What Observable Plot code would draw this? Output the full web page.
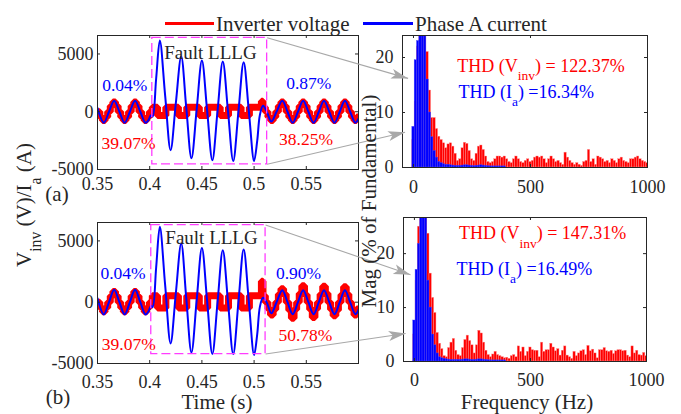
<!DOCTYPE html>
<html><head><meta charset="utf-8">
<script src="https://cdn.jsdelivr.net/npm/d3@7"></script>
<script src="https://cdn.jsdelivr.net/npm/@observablehq/plot@0.6"></script>
<style>
body{margin:0;background:#fff;}
#wrap{position:relative;width:681px;height:414px;font-family:"Liberation Serif","Times New Roman",serif;color:#262626;overflow:hidden;background:#fff}
#wrap svg{position:absolute;left:0;top:0;overflow:visible}
.leg{position:absolute;top:12px;font-size:21px;line-height:24px;white-space:nowrap;color:#262626}
.legline{position:absolute;top:22px;height:3px}
</style></head><body><div id="wrap"></div>
<script>
// ---------------- data ----------------
const timeTicks = [0.35, 0.4, 0.45, 0.5, 0.55];
const ampTicks = [-5000, 0, 5000];
const freqTicks = [0, 500, 1000];
const magTicks = [0, 10, 20];

// Phase A current samples (s, A) read at extrema / mid points
const curT = [0.35,0.351,0.356,0.361,0.366,0.371,0.376,0.381,0.386,0.391,
  0.396,0.399,0.4012,0.4028,0.4062,0.4097,0.4148,0.42,0.425,0.4302,
  0.435,0.44,0.445,0.45,0.455,0.46,0.465,0.47,0.475,0.48,
  0.485,0.49,0.495,0.5,0.503,0.5055,0.5085,0.512,0.5165,0.5215,
  0.527,0.532,0.537,0.542,0.547,0.552,0.557,0.562,0.567,0.572,
  0.577,0.582,0.587,0.592,0.597,0.6];
const curA = [320,0,-950,0,950,0,-950,0,950,0,
  -950,-700,-300,-420,2900,6174,1400,-3330,720,4783,
  380,-4026,200,4435,120,-4200,75,4348,45,-4260,
  15,4290,15,-4260,-2500,-300,520,50,-850,0,
  950,0,-950,0,950,0,-950,0,950,0,
  -950,0,950,0,-950,-600];
const curB = [330,0,-1000,0,1010,0,-1000,0,1010,0,
  -1000,-720,-300,-420,2850,6148,1390,-3361,710,4787,
  345,-4098,165,4426,100,-4230,5,4238,30,-4230,
  30,4295,0,-4311,-2600,-400,360,0,-900,0,
  980,0,-980,0,980,0,-980,0,980,0,
  -980,0,980,0,-980,-620];

// Inverter voltage steps (step start time, V)
const volT = [0.35,0.35225,0.35475,0.35725,0.35975,0.36225,0.36475,0.36725,0.36975,0.37225,
  0.37475,0.37725,0.37975,0.38225,0.38475,0.38725,0.38975,0.39225,0.39475,0.39725,
  0.39975,0.4025,0.4075,0.4155,0.4275,0.4355,0.4475,0.4555,0.4675,0.4755,
  0.4875,0.4955,0.507,0.5085,0.51075,0.51325,0.51575,0.51825,0.52075,0.52325,
  0.52575,0.52825,0.53075,0.53325,0.53575,0.53825,0.54075,0.54325,0.54575,0.54825,
  0.55075,0.55325,0.55575,0.55825,0.56075,0.56325,0.56575,0.56825,0.57075,0.57325,
  0.57575,0.57825,0.58075,0.58325,0.58575,0.58825,0.59075,0.59325,0.59575,0.59825,0.6];
const volA = [0,-450,-750,-450,0,500,850,500,0,-450,
  -750,-450,0,500,850,500,0,-450,-750,-450,
  0,380,-330,380,-330,380,-330,380,-330,380,
  -330,380,900,380,0,-450,-750,-450,0,500,
  850,500,0,-450,-750,-450,0,500,850,500,
  0,-450,-750,-450,0,500,850,500,0,-450,
  -750,-450,0,500,850,500,0,-450,-750,-450,-450];
const volB = [0,-450,-780,-450,0,500,870,500,0,-450,
  -780,-450,0,500,870,500,0,-450,-780,-450,
  0,520,-480,520,-480,520,-480,520,-480,520,
  -480,520,1700,520,0,-550,-1050,-600,0,650,
  1100,650,0,-650,-1300,-600,0,700,1350,600,
  0,-600,-1250,-550,0,650,1300,700,0,-600,
  -1100,-650,0,600,1250,650,0,-550,-1050,-550,-550];

// Spectra, % of fundamental, bins every 10 Hz from 0 Hz
const binHz = d3.range(0, 1001, 10);
const redA = [5,12,22,30,30,30,21,14,9,9,
  7,5.6,5,4.4,3.5,4.2,4.4,3.8,2.5,1.2,
  1.5,3.5,4.5,4.3,3,1.5,1.2,2.5,3.8,4,
  3.2,2,1,0.8,1,1.5,2,2,1.8,2,
  1.5,1,0.8,1.5,2,1.5,1,0.8,1.2,1.5,
  1,1.2,1.8,2,1.8,2,1.5,0.8,1.5,2,
  1.5,1,1.2,0.8,0.5,2.7,1.8,1.2,0.8,0.5,
  0.8,0.5,0.3,1,1.2,3.2,1,1.5,0.5,2,
  1.8,1.5,1,1.2,0.8,1.5,1.2,0.8,1.5,1.8,
  1.2,1,0.8,1.5,1.5,1.8,2,1.5,1.2,1,0.8];
const blueA = [7.4,19.5,23,30,30,30,16,10,5.5,3,
  1.8,1,0.8,0.6,0.5,0.5,0.4,0.35,0.3,0.3,
  0.3,0.35,0.4,0.4,0.35,0.3,0.25,0.3,0.35,0.4,
  0.35,0.3,0.25,0.2,0.2,0.2,0.2,0.2,0.2,0.2];
const redB = [5,15,25,30,30,30,23.7,16.3,11.8,9,
  5.3,3.3,2.3,1,0.8,2.5,3.5,4.2,2,1.2,
  1,2.5,4,4.8,3.8,3,1.5,3,5.7,5.2,
  3.5,2,1.2,0.8,1.3,1.8,1.2,1,0.8,0.6,
  0.7,0.5,1,1.2,0.8,2.8,1.8,2.6,1,1.8,
  2.6,2.1,2,2,0.8,3.5,1.8,2.1,2.1,3.3,
  2.6,1.9,2.3,1.1,2,2.8,1.1,0.8,0.5,1.8,
  1,1.5,1.9,2.1,1.2,2.9,1.9,2.2,1.5,0.6,
  2.1,2.1,2.5,1.9,1.8,2,1.4,1.9,2.1,2.1,
  1.9,2,1.1,0.8,2.8,1.5,2,1.2,1.1,1.6,1];
const blueB = [7.6,17,21.8,30,30,30,15,10,5,3,
  1.5,0.8,0.6,0.5,0.4,0.35,0.3,0.3,0.3,0.3,
  0.3,0.35,0.4,0.4,0.35,0.3,0.3,0.35,0.4,0.4,
  0.35,0.3,0.25,0.2,0.2,0.2,0.2,0.2,0.2,0.2];

// texts
const curPctA = ["0.04%", "0.87%"], volPctA = ["39.07%", "38.25%"];
const curPctB = ["0.04%", "0.90%"], volPctB = ["39.07%", "50.78%"];
const faultText = "Fault LLLG";
const thdA = ["122.37%", "16.34%"], thdB = ["147.31%", "16.49%"];

// ---------------- layout / style ----------------
const W = 681, H = 414;
const FONT = '"Liberation Serif", "Times New Roman", serif';
const RED = "#ff0000", BLUE = "#0000ff", MAG = "#ff3cff", GRAY = "#a8a8a8", INK = "#262626";
const baseStyle = {fontFamily: FONT, fontSize: "18px", color: INK, background: "transparent", overflow: "visible"};

const frames = {
  AL: {l: 97, r: 358, t: 35, b: 169},
  BL: {l: 97, r: 358, t: 222, b: 363},
  AR: {l: 402, r: 647, t: 35, b: 167},
  BR: {l: 403, r: 646, t: 217, b: 361}
};
const boxA = {t1: 0.4025, t2: 0.5125, lo: -4550, hi: 6400};
const boxB = {t1: 0.4015, t2: 0.511, lo: -4230, hi: 6290};
const placeA = {cur: [[0.3761, 2270], [0.5524, 2415]], vol: [[0.3797, -2780], [0.5497, -2430]], fault: [0.4582, 5064]};
const placeB = {cur: [[0.3744, 2316], [0.5425, 2365]], vol: [[0.38, -3450], [0.5492, -2716]], fault: [0.4592, 5253]};

function frameTicks(f, xt, yt) {
  const fw = f.r - f.l, fh = f.b - f.t;
  return [
    Plot.tickX(xt, {x: d => d, insetTop: fh - 3, stroke: INK}),
    Plot.tickX(xt, {x: d => d, insetBottom: fh - 3, stroke: INK}),
    Plot.tickY(yt, {y: d => d, insetRight: fw - 3, stroke: INK}),
    Plot.tickY(yt, {y: d => d, insetLeft: fw - 3, stroke: INK}),
    Plot.frame({stroke: INK})
  ];
}

function timePanel(f, yDomain, cur, vol, box, curPct, volPct, place, padX) {
  const curData = curT.map((t, i) => ({t, v: cur[i]}));
  const volData = volT.map((t, i) => ({t, v: vol[i]}));
  const cl = place.cur.map((p, i) => ({x: p[0], y: p[1], s: curPct[i]}));
  const vl = place.vol.map((p, i) => ({x: p[0], y: p[1], s: volPct[i]}));
  return Plot.plot({
    width: W, height: H, marginLeft: f.l, marginRight: W - f.r, marginTop: f.t, marginBottom: H - f.b,
    style: baseStyle,
    x: {domain: [0.35, 0.6]},
    y: {domain: yDomain},
    marks: [
      Plot.line(volData, {x: "t", y: "v", curve: "step-after", stroke: RED, strokeWidth: 7, strokeLinejoin: "miter", clip: true}),
      Plot.line(curData, {x: "t", y: "v", curve: "catmull-rom", stroke: BLUE, strokeWidth: 2, clip: true}),
      Plot.rect([box], {x1: "t1", x2: "t2", y1: "lo", y2: "hi", fill: "none", stroke: MAG, strokeWidth: 1.3, strokeDasharray: "9,4"}),
      Plot.text(cl, {x: "x", y: "y", text: "s", fill: BLUE, fontSize: 17.5}),
      Plot.text(vl, {x: "x", y: "y", text: "s", fill: RED, fontSize: 17.5}),
      Plot.text([faultText], {x: place.fault[0], y: place.fault[1], text: d => d, fill: INK, fontSize: 19}),
      Plot.axisX(timeTicks, {tickSize: 0, tickPadding: padX, tickFormat: d3.format("~g"), label: null}),
      Plot.axisY(ampTicks, {tickSize: 0, tickPadding: 4, tickFormat: d => String(d), label: null}),
      ...frameTicks(f, timeTicks, ampTicks)
    ]
  });
}

function specPanel(f, yMax, red, blue, padX) {
  const rd = red.map((v, i) => ({f: binHz[i], v}));
  const bd = blue.map((v, i) => ({f: binHz[i], v}));
  return Plot.plot({
    width: W, height: H, marginLeft: f.l, marginRight: W - f.r, marginTop: f.t, marginBottom: H - f.b,
    style: baseStyle,
    x: {domain: [-47, 1000]},
    y: {domain: [0, yMax]},
    marks: [
      Plot.rect(rd, {x1: d => d.f - 5, x2: d => d.f + 5, y1: 0, y2: "v", fill: RED, stroke: "#ff9090", strokeWidth: 0.4, clip: true}),
      Plot.rect(bd, {x1: d => d.f - 5, x2: d => d.f + 5, y1: 0, y2: "v", fill: BLUE, stroke: "#4a4aff", strokeWidth: 0.4, clip: true}),
      Plot.axisX(freqTicks, {tickSize: 0, tickPadding: padX, tickFormat: d => String(d), label: null}),
      Plot.axisY(magTicks, {tickSize: 0, tickPadding: 9, tickFormat: d => String(d), label: null}),
      ...frameTicks(f, freqTicks, magTicks)
    ]
  });
}

const wrap = document.getElementById("wrap");
const pAL = timePanel(frames.AL, [-5000, 6600], curA, volA, boxA, curPctA, volPctA, placeA, 8);
const pBL = timePanel(frames.BL, [-5000, 6500], curB, volB, boxB, curPctB, volPctB, placeB, 12);
const pAR = specPanel(frames.AR, 24, redA, blueA, 13);
const pBR = specPanel(frames.BR, 26.7, redB, blueB, 12);
[pAL, pBL, pAR, pBR].forEach(p => wrap.appendChild(p));

// zoom connectors from fault window to spectra
const tipsA = [{f: -23, v: 16.2}, {f: -36, v: 6.4}];
const tipsB = [{f: -17, v: 16.1}, {f: -38, v: 5.2}];
function connectors(pL, box, pR, tips) {
  const sx = pL.scale("x"), sy = pL.scale("y"), rx = pR.scale("x"), ry = pR.scale("y");
  const starts = [[box.t2, box.hi], [box.t2, box.lo]];
  return starts.map(([t, v], i) => {
    const x1 = sx.apply(t), y1 = sy.apply(v), x2 = rx.apply(tips[i].f), y2 = ry.apply(tips[i].v);
    return {x1, y1, x2, y2, rot: Math.atan2(y2 - y1, x2 - x1) * 180 / Math.PI + 90};
  });
}
const links = [...connectors(pAL, boxA, pAR, tipsA), ...connectors(pBL, boxB, pBR, tipsB)];
const headShape = {draw(ctx, l) { ctx.moveTo(0, -l); ctx.lineTo(5, 0); ctx.lineTo(0, -4); ctx.lineTo(-5, 0); ctx.closePath(); }};
const overlay = Plot.plot({
  width: W, height: H, margin: 0, style: baseStyle,
  x: {type: "identity", axis: null}, y: {type: "identity", axis: null},
  marks: [
    Plot.link(links, {x1: "x1", y1: "y1", x2: "x2", y2: "y2", stroke: GRAY, strokeWidth: 1.1}),
    Plot.vector(links, {x: "x2", y: "y2", rotate: "rot", length: 17, anchor: "end", shape: headShape, fill: GRAY, stroke: "none"})
  ]
});
wrap.appendChild(overlay);

// rich text (subscripts) in overlay
const ov = d3.select(overlay);
function rich(x, y, parts, {size, fill = INK, rotate = 0, anchor = "start", sub = 0.75, shift = 0.45}) {
  const t = ov.append("text")
    .attr("transform", `translate(${x},${y}) rotate(${rotate})`)
    .attr("text-anchor", anchor).attr("fill", fill)
    .style("font-family", FONT).style("font-size", size + "px");
  let first = true, lastSub = false;
  for (const [s, isSub] of parts) {
    const ts = t.append("tspan").text(s);
    let dy = 0;
    if (first) dy += 0.35 * size;
    if (isSub && !lastSub) dy += shift * size;
    if (!isSub && lastSub) dy -= shift * size;
    if (dy) ts.attr("dy", dy);
    if (isSub) ts.style("font-size", (size * sub) + "px");
    first = false; lastSub = isSub;
  }
}
const ax = pAR.scale("x"), ay = pAR.scale("y"), bx = pBR.scale("x"), by = pBR.scale("y");
rich(ax.apply(189), ay.apply(18.5), [["THD (V", false], ["inv", true], [") = " + thdA[0], false]], {size: 18, fill: RED});
rich(ax.apply(194), ay.apply(13.7), [["THD (I", false], ["a", true], [") =" + thdA[1], false]], {size: 18, fill: BLUE});
rich(bx.apply(194), by.apply(23.7), [["THD (V", false], ["inv", true], [") = " + thdB[0], false]], {size: 18, fill: RED});
rich(bx.apply(184), by.apply(17.2), [["THD (I", false], ["a", true], [") =" + thdB[1], false]], {size: 18, fill: BLUE});

// axis titles
rich(24, 205, [["V", false], ["inv", true], [" (V)/I", false], ["a", true], [" (A)", false]], {size: 21, rotate: -90, anchor: "middle"});
rich(369, 201, [["Mag (% of Fundamental)", false]], {size: 21, rotate: -90, anchor: "middle"});
rich(217, 402, [["Time (s)", false]], {size: 21, anchor: "middle"});
rich(527, 402, [["Frequency (Hz)", false]], {size: 21, anchor: "middle"});
rich(57, 194, [["(a)", false]], {size: 21, anchor: "middle"});
rich(58, 397, [["(b)", false]], {size: 21, anchor: "middle"});

// legend
const legend = [
  {label: "Inverter voltage", color: RED, x: 165, w: 49},
  {label: "Phase A current", color: BLUE, x: 363, w: 50}
];
for (const it of legend) {
  const ln = document.createElement("div");
  ln.className = "legline"; ln.style.left = it.x + "px"; ln.style.width = it.w + "px"; ln.style.background = it.color;
  wrap.appendChild(ln);
  const tx = document.createElement("div");
  tx.className = "leg"; tx.style.left = (it.x + it.w + 2) + "px"; tx.textContent = it.label;
  wrap.appendChild(tx);
}
</script></body></html>
